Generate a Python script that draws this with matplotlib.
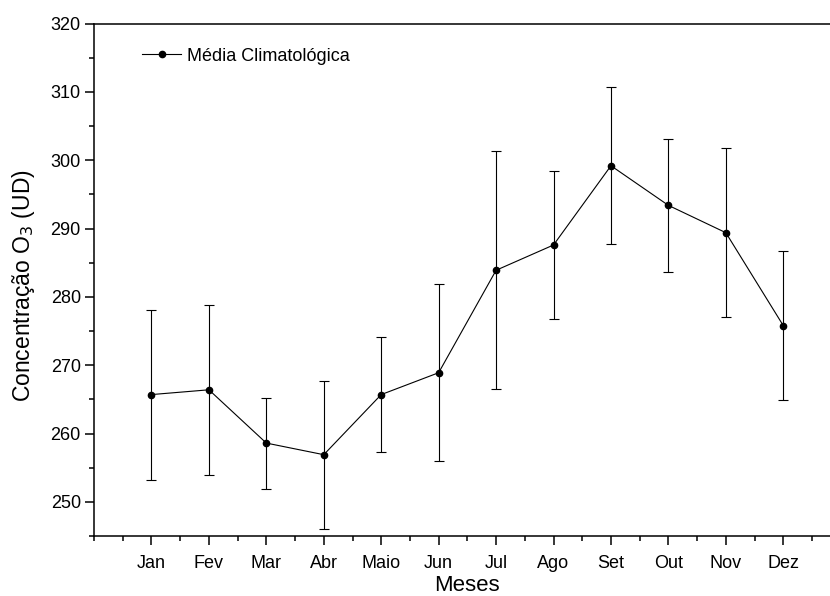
import numpy as np
import matplotlib
matplotlib.use("Agg")
import matplotlib.pyplot as plt
from matplotlib.ticker import MultipleLocator

plt.rcParams["font.family"] = ["Liberation Sans", "DejaVu Sans"]

# Climatological monthly mean total ozone and its standard deviation
MONTHS = ["Jan", "Fev", "Mar", "Abr", "Maio", "Jun",
          "Jul", "Ago", "Set", "Out", "Nov", "Dez"]
MEAN_O3 = [265.7, 266.4, 258.6, 256.9, 265.7, 268.9,
           283.9, 287.6, 299.2, 293.4, 289.4, 275.8]
STD_O3 = [12.45, 12.4, 6.65, 10.85, 8.4, 12.95,
          17.45, 10.85, 11.5, 9.7, 12.4, 10.95]

fig = plt.figure(figsize=(8.3, 5.96), dpi=100)
ax = fig.add_axes([0.1133, 0.1007, 0.8996, 0.8596])

x = np.arange(1, len(MONTHS) + 1)
ax.errorbar(x, MEAN_O3, yerr=STD_O3, fmt="none", ecolor="black",
            elinewidth=0.8, capsize=3.6, capthick=0.8)
ax.plot(x, MEAN_O3, color="black", linewidth=0.8, marker="o",
        markersize=4.5, label="Média Climatológica")

ax.set_xlim(0, 13)
ax.set_ylim(245, 320)
ax.set_xticks(x)
ax.set_xticklabels(MONTHS)
ax.xaxis.set_minor_locator(MultipleLocator(0.5))
ax.set_yticks(np.arange(250, 321, 10))
ax.yaxis.set_minor_locator(MultipleLocator(5))

for side in ["left", "bottom", "top"]:
    ax.spines[side].set_linewidth(1.1)
ax.spines["right"].set_visible(False)

ax.tick_params(axis="both", which="major", direction="out", length=6.5,
               width=1.1, labelsize=13)
ax.tick_params(axis="both", which="minor", direction="out", length=3.6,
               width=1.1)
ax.tick_params(axis="x", which="major", pad=7.5)
ax.tick_params(axis="y", which="major", pad=3)

ax.set_xlabel("Meses", fontsize=16, labelpad=2)
ax.set_ylabel("Concentração O$_3$ (UD)", fontsize=16.5)
ax.yaxis.set_label_coords(-0.077, 0.488)

ax.legend(loc="upper left", frameon=False, fontsize=13,
          bbox_to_anchor=(0.042, 0.985), handlelength=2.2,
          handletextpad=0.3)

fig.savefig("out.png", dpi=100)
